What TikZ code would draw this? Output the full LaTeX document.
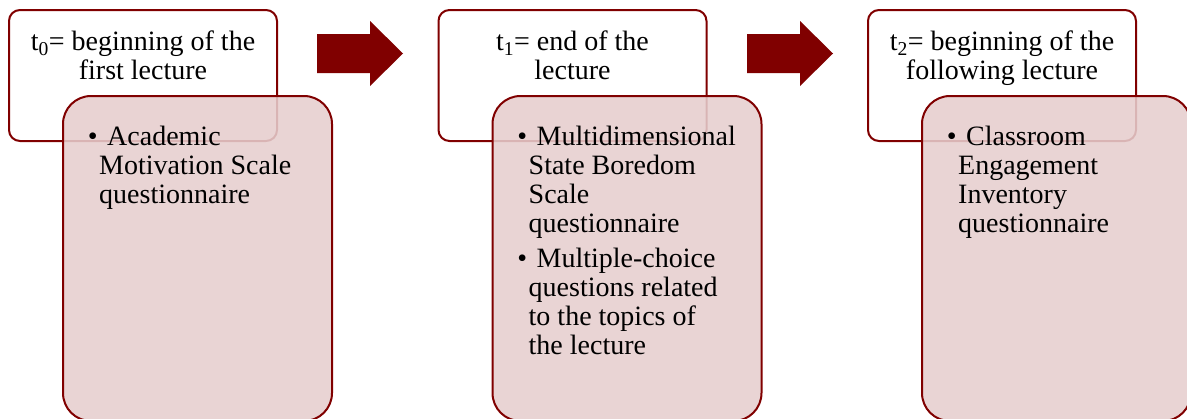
\documentclass[tikz,border=0pt]{standalone}
\usepackage{fontspec}
\setmainfont{Liberation Serif}
\definecolor{darkred}{RGB}{128,0,0}
\definecolor{boxpink}{RGB}{230,206,206}
\newcommand{\bul}{\makebox[19.4pt][l]{\textbullet}}
\newcommand{\cont}{\hspace*{11.4pt}}
\tikzset{
  timebox/.style={draw=darkred, line width=2pt, fill=white, rounded corners=11pt,
    minimum width=268pt, minimum height=131pt, inner sep=0pt},
  listbox/.style={draw=darkred, line width=2pt, fill=boxpink, fill opacity=0.88,
    rounded corners=28pt, minimum width=269pt, minimum height=325pt, inner sep=0pt},
  timetext/.style={anchor=north, align=center, inner sep=0pt,
    font=\fontsize{28}{29}\selectfont},
  listtext/.style={anchor=north west, align=left, inner sep=0pt,
    font=\fontsize{28}{29}\selectfont},
  blockarrow/.style={fill=darkred}
}
\begin{document}
\begin{tikzpicture}[x=1pt, y=-1pt]
\useasboundingbox (0,0) rectangle (1187,418);
% time points
\node[timebox] (top0) at (143,75.5) {};
\node[timebox] (top1) at (572.5,75.5) {};
\node[timebox] (top2) at (1002,75.5) {};
\node[timetext] (time0) at ([yshift=-22pt]top0.north) {t\textsubscript{0}= beginning of the\\first lecture};
\node[timetext] (time1) at ([yshift=-22pt]top1.north) {t\textsubscript{1}= end of the\\lecture};
\node[timetext] (time2) at ([yshift=-22pt]top2.north) {t\textsubscript{2}= beginning of the\\following lecture};
% measures
\node[listbox] (low0) at (197.5,258.5) {};
\node[listbox] (low1) at (627,258.5) {};
\node[listbox] (low2) at (1056.5,258.5) {};
\node[listtext] (list0) at ([xshift=25.6pt,yshift=-31pt]low0.north west)
  {\bul Academic\\\cont Motivation Scale\\\cont questionnaire};
\node[listtext] (list1) at ([xshift=25.6pt,yshift=-31pt]low1.north west)
  {\bul Multidimensional\\\cont State Boredom\\\cont Scale\\\cont questionnaire\\[6pt]
   \bul Multiple-choice\\\cont questions related\\\cont to the topics of\\\cont the lecture};
\node[listtext] (list2) at ([xshift=25.6pt,yshift=-31pt]low2.north west)
  {\bul Classroom\\\cont Engagement\\\cont Inventory\\\cont questionnaire};
% arrows
\fill[blockarrow] (317,34)--(370,34)--(370,21)--(403,53.5)--(370,86)--(370,73)--(317,73)--cycle;
\fill[blockarrow] (747,34)--(800,34)--(800,21)--(833,53.5)--(800,86)--(800,73)--(747,73)--cycle;
\end{tikzpicture}
\end{document}
